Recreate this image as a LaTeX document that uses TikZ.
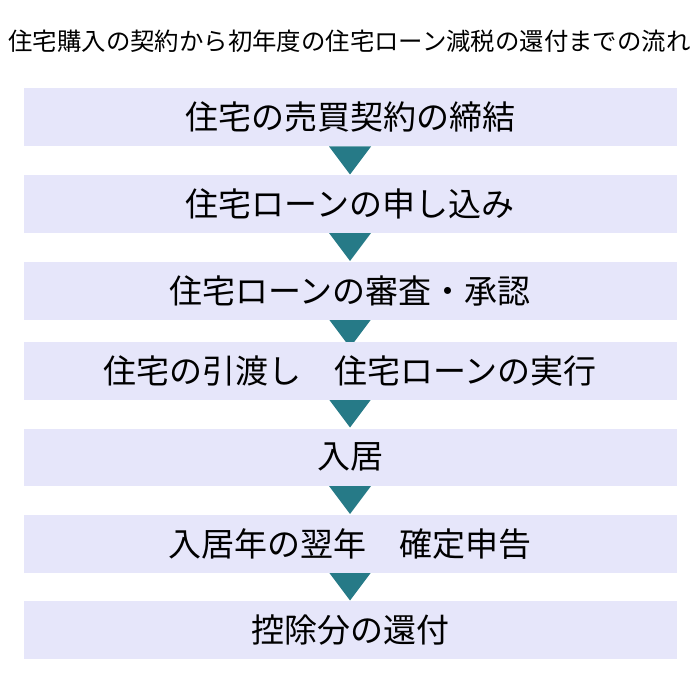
\documentclass[tikz,border=0pt]{standalone}
\usepackage{fontspec}
\setmainfont{Noto Sans CJK JP}
\usetikzlibrary{positioning}
\definecolor{boxfill}{RGB}{230,230,250}
\definecolor{arrowteal}{RGB}{38,122,135}
\tikzset{
  stepbox/.style={fill=boxfill, draw=none, minimum width=653pt, minimum height=57.5pt, inner sep=0pt, font=\fontsize{33}{36}\selectfont, text=black},
  downtri/.style={fill=arrowteal, draw=none},
  titletext/.style={font=\fontsize{24.4}{28}\selectfont, text=black, inner sep=0pt}
}
\begin{document}
\begin{tikzpicture}[x=1pt,y=-1pt]
\useasboundingbox (0,0) rectangle (700,700);
\node[titletext] (title) at (349.5,41.5) {住宅購入の契約から初年度の住宅ローン減税の還付までの流れ};
% triangles first (boxes drawn over them)
\foreach \t in {146.5,233,319.5,399.5,486,572.5}{
  \fill[downtri] (329,\t) -- (371,\t) -- (350,\t+28) -- cycle;
}
\node[stepbox] (s1) at (350,117.25) {住宅の売買契約の締結};
\node[stepbox] (s2) at (350,204.25) {住宅ローンの申し込み};
\node[stepbox] (s3) at (350,290.75) {住宅ローンの審査・承認};
\node[stepbox] (s4) at (350,371) {住宅の引渡し　住宅ローンの実行};
\node[stepbox] (s5) at (350,457.25) {入居};
\node[stepbox] (s6) at (350,543.75) {入居年の翌年　確定申告};
\node[stepbox] (s7) at (350,629.75) {控除分の還付};
\end{tikzpicture}
\end{document}
